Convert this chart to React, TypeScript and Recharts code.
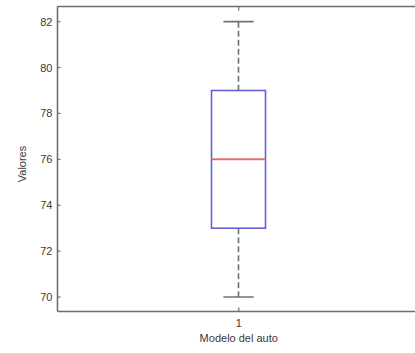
import React from 'react';
import { ComposedChart, Bar, XAxis, YAxis } from 'recharts';

const categories = ['1'];
const whiskerLow = [70];
const q1 = [73];
const median = [76];
const q3 = [79];
const whiskerHigh = [82];
const yTicks = [70, 72, 74, 76, 78, 80, 82];
const yDomain = [69.37, 82.66];
const xLabel = 'Modelo del auto';
const yLabel = 'Valores';

const data = categories.map((c, i) => ({
  name: c,
  range: [whiskerLow[i], whiskerHigh[i]],
  q1: q1[i],
  median: median[i],
  q3: q3[i],
}));

const FONT = '"Liberation Sans", Arial, sans-serif';
const AXIS = '#6e6e6e';
const TEXT = '#3a3a3a';

const BoxShape = (props: any) => {
  const { x, y, width, height, payload } = props;
  const [lo, hi] = payload.range;
  const top = Math.min(y, y + height);
  const h = Math.abs(height);
  const py = (v: number) => top + ((hi - v) / (hi - lo)) * h;
  const cx = x + width / 2;
  const capHalf = width * 0.28;
  const yq1 = py(payload.q1);
  const yq3 = py(payload.q3);
  const ymed = py(payload.median);
  const yhi = py(hi);
  const ylo = py(lo);
  return (
    <g>
      <line x1={cx} x2={cx} y1={yhi} y2={yq3} stroke="#707070" strokeWidth={1.6} strokeDasharray="6 3" />
      <line x1={cx} x2={cx} y1={yq1} y2={ylo} stroke="#707070" strokeWidth={1.6} strokeDasharray="6 3" />
      <line x1={cx - capHalf} x2={cx + capHalf} y1={yhi} y2={yhi} stroke="#707070" strokeWidth={1.6} />
      <line x1={cx - capHalf} x2={cx + capHalf} y1={ylo} y2={ylo} stroke="#707070" strokeWidth={1.6} />
      <rect x={x} y={yq3} width={width} height={yq1 - yq3} fill="none" stroke="#6262d8" strokeWidth={1.6} />
      <line x1={x} x2={x + width} y1={ymed} y2={ymed} stroke="#e07070" strokeWidth={2} />
    </g>
  );
};

const LeftTick = (props: any) => {
  const { x, y, payload } = props;
  return (
    <g>
      <line x1={x} x2={x + 3} y1={y} y2={y} stroke={AXIS} strokeWidth={1.2} />
      <text x={x - 5} y={y + 4} textAnchor="end" fontSize={11} fontFamily={FONT} fill={TEXT}>
        {payload.value}
      </text>
    </g>
  );
};

const RightTick = (props: any) => {
  const { x, y } = props;
  return <line x1={x - 6} x2={x - 3} y1={y} y2={y} stroke="#c8c8c8" strokeWidth={1.2} />;
};

const BottomTick = (props: any) => {
  const { x, y, payload } = props;
  return (
    <g>
      <line x1={x} x2={x} y1={y} y2={y - 4} stroke={AXIS} strokeWidth={1.2} />
      <text x={x} y={y + 15} textAnchor="middle" fontSize={11} fontFamily={FONT} fill={TEXT}>
        {payload.value}
      </text>
    </g>
  );
};

const TopTick = (props: any) => {
  const { x, y } = props;
  return <line x1={x} x2={x} y1={y} y2={y + 4} stroke={AXIS} strokeWidth={1.2} />;
};

const XLabel = (props: any) => {
  const { viewBox } = props;
  return (
    <text
      x={viewBox.x + viewBox.width / 2}
      y={viewBox.y + 30}
      textAnchor="middle"
      fontSize={11}
      fontFamily={FONT}
      fill={TEXT}
    >
      {xLabel}
    </text>
  );
};

const YLabel = (props: any) => {
  const { viewBox } = props;
  const lx = viewBox.x + 26;
  const ly = viewBox.y + viewBox.height / 2 + 5;
  return (
    <text
      x={lx}
      y={ly}
      transform={`rotate(-90 ${lx} ${ly})`}
      textAnchor="middle"
      fontSize={11}
      fontFamily={FONT}
      fill={TEXT}
    >
      {yLabel}
    </text>
  );
};

export default function App() {
  return (
    <div style={{ position: 'absolute', left: 0, top: 0, width: 415, height: 353, overflow: 'hidden', background: '#fff' }}>
      <ComposedChart
        width={420}
        height={353}
        data={data}
        margin={{ top: 0, right: 0, bottom: 0, left: 0 }}
      >
        <XAxis
          xAxisId="b"
          dataKey="name"
          orientation="bottom"
          height={41.5}
          axisLine={{ stroke: AXIS, strokeWidth: 1.6 }}
          tickLine={false}
          tickSize={0}
          tickMargin={0}
          tick={<BottomTick />}
          label={<XLabel />}
        />
        <XAxis
          xAxisId="t"
          dataKey="name"
          orientation="top"
          height={6.5}
          axisLine={{ stroke: AXIS, strokeWidth: 1.6 }}
          tickLine={false}
          tickSize={0}
          tickMargin={0}
          tick={<TopTick />}
        />
        <YAxis
          yAxisId="l"
          orientation="left"
          width={57.5}
          domain={yDomain}
          ticks={yTicks}
          type="number"
          allowDataOverflow
          axisLine={{ stroke: AXIS, strokeWidth: 1.6 }}
          tickLine={false}
          tickSize={0}
          tickMargin={0}
          tick={<LeftTick />}
          label={<YLabel />}
        />
        <YAxis
          yAxisId="r"
          orientation="right"
          width={0}
          domain={yDomain}
          ticks={yTicks}
          type="number"
          allowDataOverflow
          axisLine={false}
          tickLine={false}
          tickSize={0}
          tickMargin={0}
          tick={<RightTick />}
        />
        <Bar
          xAxisId="b"
          yAxisId="l"
          dataKey="range"
          barSize={54}
          shape={<BoxShape />}
          isAnimationActive={false}
        />
      </ComposedChart>
    </div>
  );
}
